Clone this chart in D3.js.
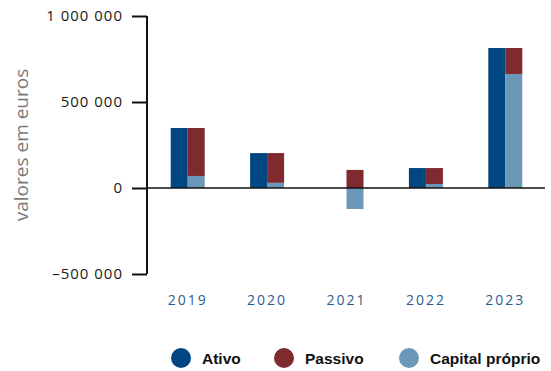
<!DOCTYPE html>
<html>
<head>
<meta charset="utf-8">
<script src="https://cdn.jsdelivr.net/npm/d3@7/dist/d3.min.js"></script>
<style>
  html, body { margin: 0; padding: 0; background: #fff; }
  svg { display: block; }
</style>
</head>
<body>
<svg id="chart" width="551" height="371"></svg>
<script>
// Balance sheet by year (euros)
const years = ["2019", "2020", "2021", "2022", "2023"];
const ativo = [349000, 203000, 0, 116000, 814000];
const passivo = [279000, 173000, 105000, 93000, 151000];
const capitalProprio = [70000, 30000, -122000, 23000, 663000];
const yTicks = [-500000, 0, 500000, 1000000];
const seriesNames = ["Ativo", "Passivo", "Capital próprio"];
const seriesColors = ["#004680", "#7f2a2e", "#6b98b8"];

const svg = d3.select("#chart");

const y = d3.scaleLinear().domain([-500000, 1000000]).range([274, 16]);
const x = d3.scaleBand().domain(years).range([148, 545]).paddingInner(0).paddingOuter(0);
const barW = 17;

const fmt = v => {
  const s = d3.format(",")(Math.abs(v)).replace(/,/g, " ");
  return (v < 0 ? "–" : "") + s;
};

// Y axis
const yAxis = d3.axisLeft(y).tickValues(yTicks).tickSize(15).tickPadding(9).tickFormat(fmt);
const gy = svg.append("g").attr("transform", "translate(147,0)").call(yAxis);
gy.select(".domain").attr("stroke", "#111").attr("stroke-width", 2).attr("d", `M0,${y(-500000)}V${y(1000000)}`);
gy.selectAll(".tick line").attr("stroke", "#111").attr("stroke-width", 2);
gy.selectAll(".tick text")
  .attr("fill", "#1a1a1a")
  .style("font-family", "'Open Sans', sans-serif")
  .style("font-size", "15px")
  .style("letter-spacing", "1px");

// Axis title
svg.append("text")
  .attr("transform", `translate(28,145) rotate(-90)`)
  .attr("text-anchor", "middle")
  .attr("fill", "#7a7a7a")
  .style("font-family", "'Open Sans', sans-serif")
  .style("font-size", "19px")
  .text("valores em euros");

// Bars
const g = svg.append("g");
years.forEach((yr, i) => {
  const c = x(yr) + x.bandwidth() / 2;
  // Ativo (left)
  if (ativo[i] !== 0) {
    g.append("rect")
      .attr("x", c - barW)
      .attr("width", barW)
      .attr("y", y(Math.max(0, ativo[i])))
      .attr("height", Math.abs(y(ativo[i]) - y(0)))
      .attr("fill", seriesColors[0]);
  }
  // Capital próprio (right, from zero)
  const cp = capitalProprio[i];
  g.append("rect")
    .attr("x", c)
    .attr("width", barW)
    .attr("y", y(Math.max(0, cp)))
    .attr("height", Math.abs(y(cp) - y(0)))
    .attr("fill", seriesColors[2]);
  // Passivo stacked above capital próprio
  const base = Math.max(0, cp);
  g.append("rect")
    .attr("x", c)
    .attr("width", barW)
    .attr("y", y(base + passivo[i]))
    .attr("height", y(base) - y(base + passivo[i]))
    .attr("fill", seriesColors[1]);
});

// Zero baseline
svg.append("line")
  .attr("x1", 147).attr("x2", 545)
  .attr("y1", y(0)).attr("y2", y(0))
  .attr("stroke", "#111").attr("stroke-width", 1.6);

// Category labels
svg.append("g").selectAll("text")
  .data(years).join("text")
  .attr("x", d => x(d) + x.bandwidth() / 2)
  .attr("y", 305)
  .attr("text-anchor", "middle")
  .attr("fill", "#2b5b8e")
  .style("font-family", "'Open Sans', sans-serif")
  .style("font-size", "14px")
  .style("letter-spacing", "2px")
  .text(d => d);

// Legend
const legendX = [181, 284, 409];
const lg = svg.append("g");
seriesNames.forEach((name, i) => {
  lg.append("circle")
    .attr("cx", legendX[i]).attr("cy", 358).attr("r", 10)
    .attr("fill", seriesColors[i]);
  lg.append("text")
    .attr("x", legendX[i] + 21).attr("y", 364)
    .attr("fill", "#111")
    .style("font-family", "'Liberation Sans', Arial, sans-serif")
    .style("font-weight", "bold")
    .style("font-size", "15.5px")
    .text(name);
});
</script>
</body>
</html>
